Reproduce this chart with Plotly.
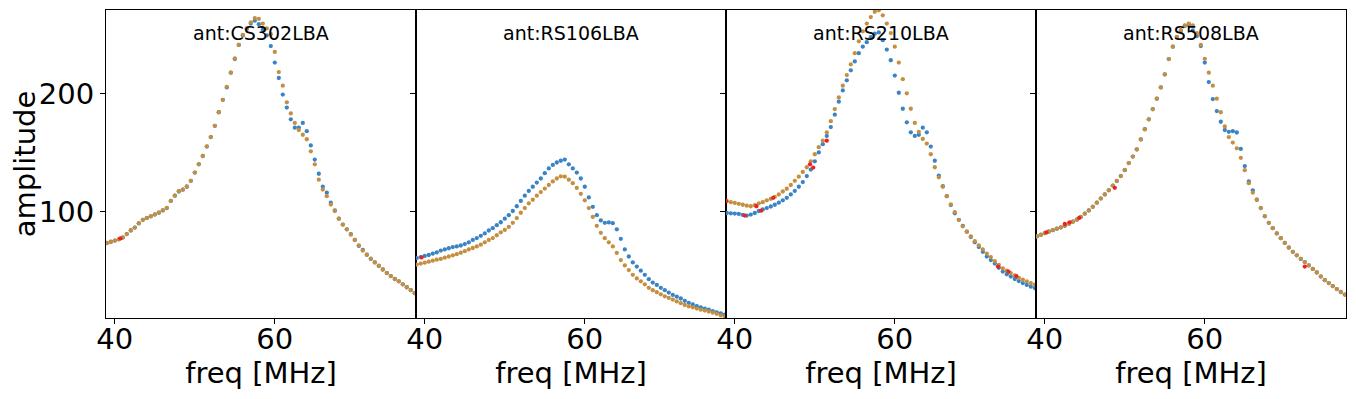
import plotly.graph_objects as go
from plotly.subplots import make_subplots

freq = [39.0, 39.5, 40.0, 40.5, 41.0, 41.5, 42.0, 42.5, 43.0, 43.5,
        44.0, 44.5, 45.0, 45.5, 46.0, 46.5, 47.0, 47.5, 48.0, 48.5,
        49.0, 49.5, 50.0, 50.5, 51.0, 51.5, 52.0, 52.5, 53.0, 53.5,
        54.0, 54.5, 55.0, 55.5, 56.0, 56.5, 57.0, 57.5, 58.0, 58.5,
        59.0, 59.5, 60.0, 60.5, 61.0, 61.5, 62.0, 62.5, 63.0, 63.5,
        64.0, 64.5, 65.0, 65.5, 66.0, 66.5, 67.0, 67.5, 68.0, 68.5,
        69.0, 69.5, 70.0, 70.5, 71.0, 71.5, 72.0, 72.5, 73.0, 73.5,
        74.0, 74.5, 75.0, 75.5, 76.0, 76.5, 77.0, 77.5]

antennas = ["CS302LBA", "RS106LBA", "RS210LBA", "RS508LBA"]

cs302_blue = [73.5, 74.5, 75.5, 76.5, 78, 81, 84, 86.5, 90, 93,
              94.5, 96, 97.5, 99, 101, 103, 109, 113.5, 117, 118.5,
              121, 126, 133, 140, 147, 155, 163, 172.5, 184, 194.5,
              205, 217.5, 229, 241, 249, 254.5, 259, 261.5, 258.5, 254,
              249, 240, 226, 213, 199, 188, 178, 171, 171, 175,
              168, 156, 144, 132, 121, 116, 107.5, 101, 94, 89,
              85, 81, 76, 71, 67.5, 63.5, 60, 57, 54, 51,
              48, 45.5, 43, 41, 38.5, 36, 33.5, 31]
cs302_orange = [73.3, 74.3, 75.4, 76.6, 78.2, 81, 84.2, 86.5, 90.2, 93,
                94.7, 96, 97.6, 99.2, 101, 103.2, 109, 113.5, 117.2, 118.5,
                121.2, 126, 133, 140.2, 147, 155.2, 163, 172.5, 184, 194.5,
                205.5, 217.5, 229.5, 241, 249.5, 255, 260, 263.7, 263, 259,
                255, 250, 235, 218, 206.5, 192.4, 183, 175, 169, 165,
                161.2, 151, 140, 127, 118.7, 113, 106, 100.5, 94, 89,
                85, 80.5, 76, 71.5, 67, 63.5, 60.2, 57, 54.2, 51,
                48.2, 45.5, 43, 41, 38.5, 36, 33.5, 31]

rs106_blue = [60.7, 61.5, 62.5, 63.3, 64.5, 65.5, 67, 68, 69, 70,
              70.5, 71.3, 72.5, 74, 76, 77.6, 79.5, 81.5, 84, 86,
              88.5, 91, 94, 97, 100.5, 104.5, 109, 113.5, 117.5, 121,
              124.5, 128, 132.5, 136.5, 139.5, 141.5, 143, 144, 140, 136.5,
              133, 128, 121, 112, 104, 97, 92.5, 90.5, 90.8, 90.2,
              85, 77, 68, 62, 57, 53.5, 50, 46.5, 42.8, 40,
              38, 35.5, 33.5, 31.5, 29.5, 28, 26.5, 24.5, 22.8, 21.5,
              20, 19, 18, 17, 15.8, 14.8, 13.8, 12.8]
rs106_orange = [55.2, 56, 56.8, 57.6, 58.5, 59.3, 60, 61, 62, 63,
                64, 65.2, 66.5, 68, 69.2, 70.5, 72, 74, 76, 77.6,
                80, 82.5, 84.5, 87, 90.5, 94.5, 99, 103, 107, 110,
                113.5, 116.5, 119.5, 122.5, 125.5, 128, 129.8, 129.5, 127, 124,
                120, 115, 109.5, 103, 95.5, 88, 82, 77.5, 74, 70.5,
                65, 59, 54.5, 50.5, 46.5, 43.5, 41, 38.5, 35.5, 33.5,
                31.8, 30, 28.3, 27, 25.5, 24, 22.5, 21, 19.8, 19,
                18, 17, 16.3, 15.5, 14.5, 13.5, 12.2, 11.2]

rs210_blue = [98.8, 98.5, 98.3, 98, 97.2, 96.6, 97.5, 98.8, 100.5, 101.8,
              103, 104.3, 105.8, 107.5, 109.5, 111.6, 114.5, 117.5, 121, 125,
              130, 135.5, 142.5, 150, 157, 164, 171.5, 182, 193, 202.5,
              211, 219.5, 227, 234, 239.5, 243.3, 247.5, 250.5, 251.5, 245,
              237, 228, 215, 200.5, 187, 175.5, 167, 164, 165, 171,
              167, 155, 143, 130.5, 121.5, 113, 105.5, 98.5, 93, 88,
              83, 78.5, 74, 70, 66, 62, 59, 56, 52.5, 49.3,
              47, 45, 43, 41.2, 39.5, 38, 36.5, 35.3]
rs210_orange = [109, 108, 107.3, 106.6, 105.8, 105, 104.5, 105.5, 107, 108,
                109.5, 110.8, 112.5, 114.5, 117, 119.3, 122.5, 126, 129.5, 133.5,
                137.5, 142.5, 148.5, 154.5, 160, 167, 176.5, 186.7, 196.5, 206.5,
                215.5, 224.5, 234, 244, 252.5, 259, 264.5, 269, 270.3, 266,
                259, 251, 239.5, 226, 212, 200, 187, 175, 167.5, 161.5,
                157.5, 148.5, 137.5, 129, 121, 113, 106, 99.5, 93, 87.5,
                83, 79, 75, 71.5, 68, 64.5, 61.5, 58, 55, 52,
                50, 48, 46, 44, 42.5, 41, 39.5, 38.2]

rs508_blue = [79.2, 80.5, 81.8, 83, 84.3, 85.5, 86.7, 88, 89.8, 91.5,
              93.2, 95.5, 98.3, 101, 104, 107.5, 111, 114.5, 118, 122,
              125.8, 130, 135, 141, 146.5, 152.7, 161, 169.7, 178, 186.7,
              195.5, 205, 216, 229, 239.5, 247.6, 253, 257, 258, 253.3,
              248.5, 240, 226, 209.5, 195.2, 185, 176, 169, 167.5, 168,
              166.9, 153, 138.5, 125.5, 118, 110, 103, 96, 90.5, 86,
              81.5, 77.5, 73.5, 69.5, 66, 63, 60, 57.3, 54.5, 51.5,
              48.5, 45, 42, 39.5, 37, 34.5, 32, 29.8]
rs508_orange = [79, 80.3, 81.7, 83.2, 84.4, 85.6, 86.5, 88.2, 89.8, 91.4,
                93.3, 95.5, 98.2, 101, 104.2, 107.5, 111.2, 114.5, 118.2, 122,
                126, 130, 135.2, 141, 146.5, 152.5, 161, 169.5, 178, 186.5,
                195.5, 205, 216, 229, 239.5, 247.8, 253.5, 257.5, 259, 257.5,
                251, 241, 229.2, 217.5, 206.5, 195.5, 184, 172, 163, 158.4,
                153.5, 145.5, 135, 124, 116, 110, 103, 96.2, 90.5, 86,
                81.5, 77.5, 73.5, 69.7, 66, 63, 60, 57.3, 54.5, 51.5,
                48.5, 45.2, 42, 39.5, 37, 34.5, 32, 29.8]

# flagged (red) points per antenna
cs302_flag_f = [40.7]
cs302_flag_v = [77.3]
rs106_flag_f = [39.6]
rs106_flag_v = [61.2]
rs210_flag_f = [38.9, 42.7, 43.3, 41.25, 44.8, 49.4, 49.8, 51.5, 72.9, 74.2, 75.2]
rs210_flag_v = [108.8, 104.5, 100.8, 96.6, 111.6, 140.0, 137.2, 160.0, 53.5, 49.2, 45.5]
rs508_flag_f = [40.2, 42.5, 43.1, 44.3, 48.75, 72.5]
rs508_flag_v = [82.4, 89.5, 90.9, 94.6, 120.1, 53.5]

blue_series = [cs302_blue, rs106_blue, rs210_blue, rs508_blue]
orange_series = [cs302_orange, rs106_orange, rs210_orange, rs508_orange]
flag_f = [cs302_flag_f, rs106_flag_f, rs210_flag_f, rs508_flag_f]
flag_v = [cs302_flag_v, rs106_flag_v, rs210_flag_v, rs508_flag_v]

x_ticks = [40, 60]
y_ticks = [100, 200]

BLUE = "#3a83c5"
ORANGE = "#c48f40"
RED = "#f02020"
FONT = "DejaVu Sans"
BIG = 29
MS = 4.3

fig = make_subplots(rows=1, cols=4, shared_yaxes=True, horizontal_spacing=0)

for i in range(4):
    c = i + 1
    fig.add_trace(go.Scatter(x=freq, y=blue_series[i], mode="markers",
                             marker=dict(color=BLUE, size=MS, line=dict(width=0)),
                             showlegend=False), row=1, col=c)
    fig.add_trace(go.Scatter(x=freq, y=orange_series[i], mode="markers",
                             marker=dict(color=ORANGE, size=MS, line=dict(width=0)),
                             showlegend=False), row=1, col=c)
    fig.add_trace(go.Scatter(x=flag_f[i], y=flag_v[i], mode="markers",
                             marker=dict(color=RED, size=MS, line=dict(width=0)),
                             showlegend=False), row=1, col=c)
    fig.update_xaxes(range=[38.9, 77.65], tickvals=x_ticks, ticks="outside", ticklen=5,
                     tickwidth=1.2, tickcolor="black", showline=True, mirror=True,
                     linecolor="black", linewidth=1.2, showgrid=False, zeroline=False,
                     automargin=False, ticklabelstandoff=-10,
                     tickfont=dict(family=FONT, size=BIG, color="black"),
                     title=dict(text="freq [MHz]", font=dict(family=FONT, size=BIG, color="black"),
                                standoff=1),
                     row=1, col=c)
    fig.update_yaxes(range=[10, 270.5], tickvals=y_ticks, ticks="outside", ticklen=5,
                     tickwidth=1.2, tickcolor="black", showline=True, mirror=True,
                     linecolor="black", linewidth=1.2, showgrid=False, zeroline=False,
                     automargin=False,
                     tickfont=dict(family=FONT, size=BIG, color="black"),
                     row=1, col=c)
    xref = "x domain" if i == 0 else f"x{c} domain"
    yref = "y domain" if i == 0 else f"y{c} domain"
    fig.add_annotation(text="ant:" + antennas[i], x=0.5, y=0.924, xref=xref, yref=yref,
                       showarrow=False, xanchor="center", yanchor="middle",
                       font=dict(family=FONT, size=19, color="black"))

fig.update_yaxes(showticklabels=True, row=1, col=1,
                 title=dict(text="amplitude", font=dict(family=FONT, size=BIG, color="black"),
                            standoff=2))

# the page adds an 8 px body margin, so the figure is sized/margined to compensate
fig.update_layout(width=1348, height=391, margin=dict(l=98, r=10, t=2, b=81),
                  plot_bgcolor="white", paper_bgcolor="white",
                  font=dict(family=FONT, color="black"))

fig.write_html("out.html")
